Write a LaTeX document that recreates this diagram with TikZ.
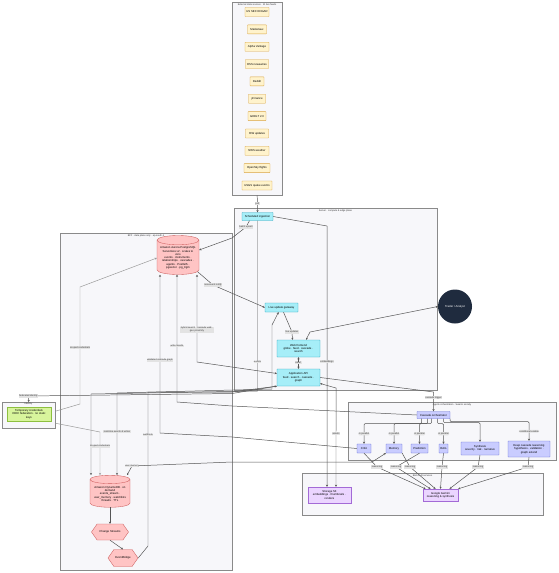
\documentclass[tikz,border=0pt]{standalone}
\usepackage{fontspec}
\setmainfont{Liberation Sans}
\usetikzlibrary{shapes.geometric, shapes.symbols, arrows.meta, chains}
\definecolor{feedfill}{HTML}{FFF3CC}
\definecolor{feedline}{HTML}{D9A441}
\definecolor{svcfill}{HTML}{A6EEF8}
\definecolor{svcline}{HTML}{2BA6BF}
\definecolor{dbfill}{HTML}{FFC4C4}
\definecolor{dbline}{HTML}{CC5C5C}
\definecolor{idnfill}{HTML}{D8F59C}
\definecolor{idnline}{HTML}{8DBF3F}
\definecolor{agentfill}{HTML}{C9CCFF}
\definecolor{agentline}{HTML}{6870D6}
\definecolor{blobfill}{HTML}{EBD5FF}
\definecolor{blobline}{HTML}{A36AD6}
\definecolor{userfill}{HTML}{1F2B3E}
\definecolor{groupfill}{HTML}{F7F7FA}
\definecolor{groupline}{HTML}{8A8A8A}
\definecolor{wire}{HTML}{555555}
\definecolor{tagfill}{HTML}{E3E3E3}
\newcommand{\boxfont}{\fontsize{4}{4.7}\selectfont}
\newcommand{\tagfont}{\fontsize{3.4}{4}\selectfont}
\tikzset{
  group/.style={
    rectangle,
    anchor=north west,
    inner sep=0pt,
    line width=0.6pt,
    draw=groupline,
    fill=groupfill
  },
  grouptitle/.style={anchor=north, font=\tagfont, text=black!80, inner sep=0.5pt},
  feed/.style={
    rectangle,
    rounded corners=0.6pt,
    minimum height=0.45cm,
    align=center,
    inner sep=1pt,
    line width=0.5pt,
    font=\boxfont,
    draw=feedline,
    fill=feedfill
  },
  svc/.style={
    rectangle,
    rounded corners=0.6pt,
    align=center,
    inner sep=1pt,
    line width=0.5pt,
    font=\boxfont,
    draw=svcline,
    fill=svcfill
  },
  db/.style={
    cylinder,
    shape border rotate=90,
    aspect=0.25,
    align=center,
    inner sep=1pt,
    line width=0.5pt,
    font=\boxfont,
    draw=dbline,
    fill=dbfill
  },
  hexa/.style={
    signal,
    signal to=east and west,
    signal pointer angle=110,
    align=center,
    inner sep=1pt,
    line width=0.5pt,
    font=\boxfont,
    draw=dbline,
    fill=dbfill
  },
  idn/.style={
    rectangle,
    align=center,
    inner sep=1pt,
    line width=0.5pt,
    font=\boxfont,
    draw=idnline,
    fill=idnfill
  },
  agent/.style={
    rectangle,
    rounded corners=0.6pt,
    minimum height=0.45cm,
    align=center,
    inner sep=1pt,
    line width=0.5pt,
    font=\boxfont,
    draw=agentline,
    fill=agentfill
  },
  blob/.style={
    rectangle,
    align=center,
    inner sep=1pt,
    line width=0.5pt,
    font=\boxfont,
    draw=blobline,
    fill=blobfill
  },
  user/.style={circle, minimum size=1.7cm, inner sep=0pt, font=\boxfont, fill=userfill, text=white},
  lbl/.style={fill=tagfill, font=\tagfont, text=black!80, inner sep=0.6pt, align=center},
  arrow/.style={line width=0.7pt, draw=wire, -{Stealth[length=3pt,width=3pt]}},
  twoway/.style={line width=0.7pt, draw=wire, {Stealth[length=3pt,width=3pt]}-{Stealth[length=3pt,width=3pt]}},
  faint/.style={line width=0.7pt, draw=black!40, -{Stealth[length=3pt,width=3pt]}}
}

\begin{document}
\begin{tikzpicture}[x=0.05cm, y=-0.05cm]
  \useasboundingbox (0,0) rectangle (558,573);

  \node[group, minimum width=2.5cm, minimum height=9.65cm] (srcs) at (232,2) {};
  \node[grouptitle] (srcstitle) at (257,3) {External data sources · 11 live feeds};
  \node[group, minimum width=10.15cm, minimum height=9.1cm] (server) at (234,208) {};
  \node[grouptitle] (servertitle) at (335.5,209) {Server · compute \& edge plane};
  \node[group, minimum width=8.6cm, minimum height=16.85cm] (bff) at (60,233) {};
  \node[grouptitle] (bfftitle) at (146,234) {BFF · data plane only · ap-south-1};
  \node[group, minimum width=2.65cm, minimum height=1.3cm] (idbox) at (2,402) {};
  \node[grouptitle] (idboxtitle) at (28.5,402.5) {Identity};
  \node[group, minimum width=10.4cm, minimum height=2.9cm] (agents) at (348,402) {};
  \node[grouptitle] (agentstitle) at (452,403) {Agent orchestration · Swarm society};
  \node[group, minimum width=12.05cm, minimum height=2.1cm] (blobs) at (302,473) {};
  \node[grouptitle] (blobstitle) at (422.5,474) {Blob \& AI services};

  \begin{scope}[start chain=going below, node distance=0.4cm]
    \node (f1) [feed, on chain, minimum width=1.2cm] at (257,12) {US SEC EDGAR};
    \node (f2) [feed, on chain, minimum width=0.95cm] {Marketaux};
    \node (f3) [feed, on chain, minimum width=1.2cm] {Alpha Vantage};
    \node (f4) [feed, on chain, minimum width=1.15cm] {RSS newswires};
    \node (f5) [feed, on chain, minimum width=0.7cm] {Reddit};
    \node (f6) [feed, on chain, minimum width=0.85cm] {yFinance};
    \node (f7) [feed, on chain, minimum width=0.9cm] {GDELT 2.0};
    \node (f8) [feed, on chain, minimum width=1.15cm] {ISW updates};
    \node (f9) [feed, on chain, minimum width=1.2cm] {NWS weather};
    \node (f10) [feed, on chain, minimum width=1.3cm] {OpenSky flights};
    \node (f11) [feed, on chain, minimum width=1.5cm] {USGS quake events};
  \end{scope}

  \node (ingest) [svc, minimum width=1.55cm, minimum height=0.4cm] at (257.5,216.5) {Scheduled ingestion};
  \node (gateway) [svc, minimum width=1.65cm, minimum height=0.45cm] at (281.5,307.5) {Live update gateway};
  \node (web) [svc, minimum width=2.15cm, minimum height=0.85cm] at (298.5,348.5) {Web frontend\\globe · feed · cascade ·\\search};
  \node (api) [svc, minimum width=2.15cm, minimum height=0.85cm] at (298.5,377.5) {Application API\\feed · search · cascade ·\\graph};
  \node (viewer) [user] at (455,306.5) {Trader / Analyst};

  \node (aurora) [db, minimum width=2.1cm, minimum height=1.95cm] at (178,258) {Amazon Aurora PostgreSQL\\Serverless v2 · scales to\\zero\\events · instruments ·\\relationships · cascades ·\\agents · PostGIS ·\\pgvector · pg\_trgm};
  \node (dynamo) [db, minimum width=2cm, minimum height=1.6cm] at (110,494) {Amazon DynamoDB · on\\demand\\events\_stream ·\\user\_memory · watchlists\\threads · TTL};
  \node (cstream) [hexa, minimum width=1.85cm, minimum height=0.8cm] at (110,532) {Change Streams};
  \node (ebridge) [hexa, minimum width=1.5cm, minimum height=0.85cm] at (123,558) {EventBridge};

  \node (oidc) [idn, minimum width=2.2cm, minimum height=0.7cm] at (29,414) {Temporary credentials\\OIDC federation · no static\\keys};

  \node (orch) [agent, minimum width=1.65cm, minimum height=0.35cm] at (433.5,415) {Cascade orchestrator};
  \node (critic) [agent, minimum width=0.7cm] at (364,448.5) {Critic};
  \node (memory) [agent, minimum width=0.8cm] at (394,448.5) {Memory};
  \node (predict) [agent, minimum width=0.85cm] at (419.5,448.5) {Prediction};
  \node (rag) [agent, minimum width=0.45cm] at (443.5,448.5) {RAG};
  \node (synth) [agent, minimum width=1.9cm, minimum height=0.65cm] at (480,448.5) {Synthesis\\severity · risk · narrative};
  \node (deep) [agent, minimum width=2.1cm, minimum height=0.8cm] at (529,449) {Deep cascade reasoning\\hypothesis · validation ·\\graph extend};

  \node (s3) [blob, minimum width=2.15cm, minimum height=0.8cm] at (329.5,495) {Storage S3\\embeddings · thumbnails ·\\renders};
  \node (gemini) [blob, minimum width=1.75cm, minimum height=0.6cm] at (440.5,495) {Google Gemini\\reasoning \& synthesis};

  \draw[arrow] (dynamo.south) -- (cstream.north);
  \draw[arrow] (cstream.south) -- (ebridge.north);

  \draw[arrow] (srcs.south) -- node[lbl]{poll} (ingest.north);
  \draw[arrow] ([xshift=-0.4cm]ingest.south) -- (246,227) node[lbl]{batch upsert} -- (232,238) -- ([yshift=0.4cm]aurora.east);
  \draw[arrow] (ingest.east) -- (327,226) -- node[lbl, pos=0.52]{embeddings} ([xshift=-0.125cm]s3.north);
  \draw[arrow] (ingest.south) -- node[lbl, pos=0.83]{events} (257.5,391) -- (91,394) -- ([xshift=-0.95cm]dynamo.north);
  \draw[twoway] ([xshift=-0.15cm]gateway.south) -- (272,325) -- (272,389) -- (117,393) -- node[lbl, pos=0.47]{real-time events \& writes} ([xshift=0.35cm]dynamo.north);
  \draw[arrow] (api.south west) -- (232,393.5) -- (28.5,396) node[lbl]{federated identity} -- (idbox.north);
  \draw[arrow] (ebridge.east) -- (148,546) -- node[lbl, pos=0.72]{webhook} (148,392) -- (232,392) -- (api.south west);
  \draw[faint] ([yshift=0.2cm]idbox.east) -- (80,404) -- node[lbl, pos=0.48]{scoped credentials} (80,287) -- (aurora.west);
  \draw[faint] ([yshift=-0.4cm]idbox.east) -- (100,432) -- node[lbl, pos=0.33]{scoped credentials} ([xshift=-0.5cm]dynamo.north);
  \draw[arrow] (aurora.-35) -- (213,285) node[lbl]{new event notify} -- (gateway.west);
  \draw[twoway] ([xshift=0.95cm]aurora.south) -- node[lbl, pos=0.63]{hybrid search · cascade walk ·\\geo proximity} (197,362) -- ([yshift=0.2cm]api.west);
  \draw[arrow] (orch.west) -- (232,406) -- (177,402) -- node[lbl, pos=0.44]{write results} ([xshift=-0.05cm]aurora.south);
  \draw[arrow] (critic.west) -- (232,437) -- (160,433) -- node[lbl, pos=0.46]{validated cascade graph} ([xshift=-0.9cm]aurora.south);
  \draw[twoway] (memory.south west) -- (372,462) -- (232,462) -- (132,466) node[lbl]{user memory} -- ([xshift=0.85cm]dynamo.north);
  \draw[arrow] (api.east) -- (433.5,392) -- node[lbl, pos=0.3]{cascade trigger} (orch.north);
  \draw[twoway] ([yshift=-0.3cm]api.east) -- (336,388) -- node[lbl, pos=0.46]{assets} ([xshift=0.325cm]s3.north);
  \draw[twoway] (viewer.west) -- (310,332) -- ([xshift=0.375cm]web.north);
  \draw[arrow] ([xshift=0.1cm]gateway.south) -- (292,332) node[lbl]{live updates} -- ([xshift=-0.3cm]web.north);
  \draw[twoway] (web.south) -- node[lbl]{REST} (api.north);

  \draw[arrow, rounded corners=1.5pt] ([xshift=-0.6cm]orch.south) -- ++(0,5) -| node[lbl, pos=0.75]{in parallel} (critic.north);
  \draw[arrow, rounded corners=1.5pt] ([xshift=-0.3cm]orch.south) -- ++(0,5) -| node[lbl, pos=0.75]{in parallel} (memory.north);
  \draw[arrow, rounded corners=1.5pt] ([xshift=-0.1cm]orch.south) -- ++(0,5) -| node[lbl, pos=0.75]{in parallel} (predict.north);
  \draw[arrow, rounded corners=1.5pt] ([xshift=0.2cm]orch.south) -- ++(0,5) -| node[lbl, pos=0.75]{in parallel} (rag.north);
  \draw[arrow, rounded corners=1.5pt] ([xshift=0.5cm]orch.south) -- ++(0,4) -| (synth.north);
  \draw[arrow, rounded corners=1.5pt] (orch.south east) -- ++(0,3) -| node[lbl, pos=0.75]{conditional enable} (deep.north);

  \draw[arrow] (critic.south) -- (377,467) node[lbl]{reasoning} -- ([xshift=-0.75cm]gemini.north);
  \draw[arrow] (predict.south) -- (396,467) node[lbl]{reasoning} -- ([xshift=-0.5cm]gemini.north);
  \draw[arrow] (memory.south east) -- (410,467) node[lbl]{reasoning} -- ([xshift=-0.25cm]gemini.north);
  \draw[arrow] (rag.south) -- (442,467) node[lbl]{reasoning} -- (gemini.north);
  \draw[arrow] (synth.south) -- (478,467) node[lbl]{reasoning} -- ([xshift=0.45cm]gemini.north);
  \draw[arrow] (deep.south) -- (528,467) node[lbl]{reasoning} -- (gemini.north east);
\end{tikzpicture}
\end{document}
